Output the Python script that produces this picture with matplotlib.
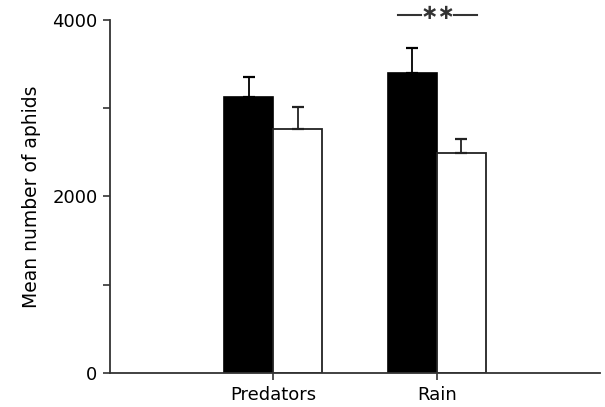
import matplotlib
matplotlib.use("Agg")
import matplotlib.pyplot as plt
import numpy as np

plt.rcParams['font.family'] = ['DejaVu Sans']

categories = ["Predators", "Rain"]
black_means = [3126, 3398]
black_err = [226, 283]
white_means = [2763, 2491]
white_err = [250, 159]
sig_label = "\u2217\u2217"

fig = plt.figure(figsize=(6.05, 4.07), dpi=100)
ax = fig.add_axes([0.1818, 0.0835, 0.81, 0.8674])

x = np.arange(1, len(categories) + 1)
w = 0.3
ax.bar(x - w / 2, black_means, w, color="black", edgecolor="black", linewidth=1.2,
       yerr=[[0, 0], black_err], error_kw=dict(ecolor="black", elinewidth=1.3, capsize=4, capthick=1.6))
ax.bar(x + w / 2, white_means, w, color="white", edgecolor="#222222", linewidth=1.3,
       yerr=[[0, 0], white_err], error_kw=dict(ecolor="#222222", elinewidth=1.3, capsize=4, capthick=1.6))

ax.set_xlim(0, 3)
ax.set_ylim(0, 4000)
ax.set_xticks(x)
ax.set_xticklabels(categories, fontsize=13)
ax.set_yticks([0, 1000, 2000, 3000, 4000])
ax.set_yticklabels(["0", "", "2000", "", "4000"], fontsize=13)
ax.tick_params(axis="both", direction="out", length=5, width=1.2, color="#333333", pad=4)
for s in ["top", "right"]:
    ax.spines[s].set_visible(False)
for s in ["left", "bottom"]:
    ax.spines[s].set_linewidth(1.3)
    ax.spines[s].set_color("#333333")
ax.set_ylabel("Mean number of aphids", fontsize=13.5, labelpad=8)

# significance marker over Rain
y_sig = 4054
ax.plot([1.765, 1.905], [y_sig, y_sig], color="#333333", lw=1.5, clip_on=False)
ax.plot([2.105, 2.244], [y_sig, y_sig], color="#333333", lw=1.5, clip_on=False)
ax.annotate(sig_label, xy=(2.006, y_sig), xytext=(0, -2.5), textcoords="offset points",
            ha="center", va="baseline", fontsize=15, fontweight="bold",
            color="#333333", annotation_clip=False)

fig.savefig("out.png", dpi=100)
